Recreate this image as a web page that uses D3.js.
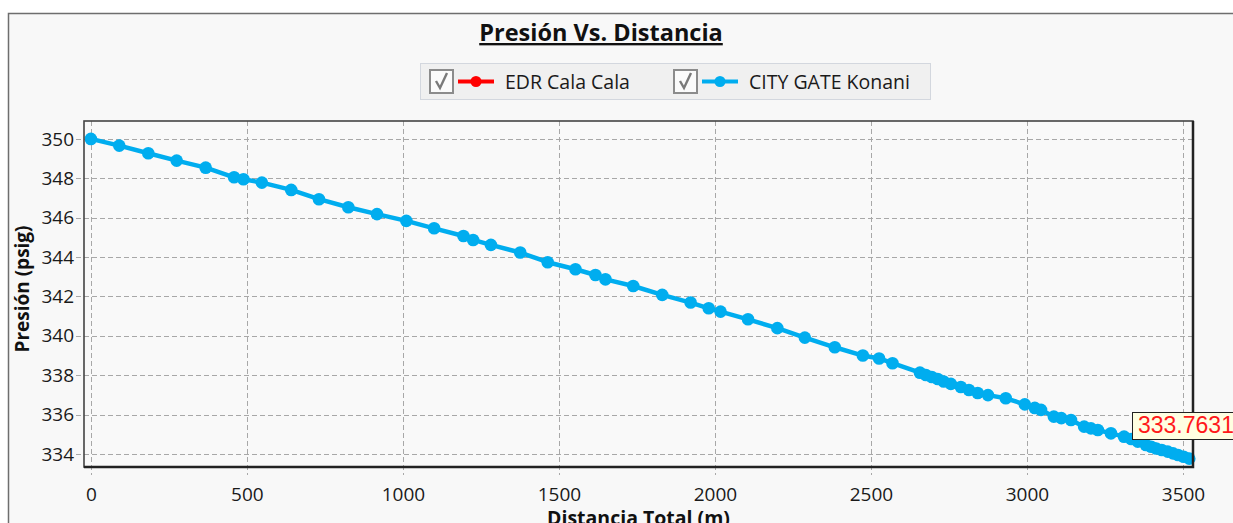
<!DOCTYPE html>
<html><head><meta charset="utf-8">
<script src="https://cdn.jsdelivr.net/npm/d3@7"></script>
<style>body{margin:0;background:#fff;overflow:hidden} svg{display:block;font-family:"Open Sans","Noto Sans",sans-serif;}</style>
</head><body><svg id="c" width="1233" height="523"></svg>
<script>
// ---- data ----
const chartTitle = "Presión Vs. Distancia";
const xTitle = "Distancia Total (m)";
const yTitle = "Presión (psig)";
const seriesNames = ["EDR Cala Cala", "CITY GATE Konani"];
const seriesColors = ["#ff0000", "#00adef"];
const edrDistance = [];
const edrPressure = [];
const konaniDistance = [0,91,184,275,368,459,489,548,642,731,825,917,1011,1100,1194,1225,1282,1376,1464,1553,1617,1649,1738,1831,1922,1980,2018,2106,2200,2288,2384,2474,2526,2569,2657,2676,2695,2714,2733,2756,2788,2814,2842,2875,2932,2993,3025,3045,3086,3110,3141,3183,3205,3227,3269,3311,3334,3355,3381,3398,3414,3432,3451,3468,3484,3502,3520];
const konaniPressure = [350.00,349.66,349.27,348.90,348.54,348.05,347.95,347.78,347.41,346.94,346.53,346.18,345.84,345.46,345.07,344.87,344.62,344.23,343.74,343.38,343.09,342.87,342.53,342.08,341.69,341.40,341.23,340.84,340.39,339.91,339.42,339.00,338.85,338.61,338.13,338.01,337.91,337.81,337.68,337.56,337.40,337.25,337.10,336.99,336.83,336.52,336.34,336.24,335.90,335.82,335.73,335.39,335.30,335.22,335.05,334.88,334.76,334.63,334.46,334.37,334.28,334.20,334.12,334.03,333.95,333.86,333.7631];
const xTicks = [0,500,1000,1500,2000,2500,3000,3500];
const yTicks = [334,336,338,340,342,344,346,348,350];
const xDomain = [-22, 3532];
const yDomain = [333.34, 350.91];
const lastLabel = "333.7631";

// ---- layout ----
const svg = d3.select("#c");
const L = 84, R = 1193, T = 121, B = 467;
const x = d3.scaleLinear().domain(xDomain).range([L, R]);
const y = d3.scaleLinear().domain(yDomain).range([B, T]);

// outer frame
svg.append("rect").attr("x",8.5).attr("y",13.5).attr("width",1300).attr("height",600)
  .attr("fill","#f8f8f8").attr("stroke","#6e6e6e").attr("stroke-width",1.5);

// title
svg.append("text").attr("x",601).attr("y",41).attr("text-anchor","middle")
  .attr("font-size",23.5).attr("font-weight","bold").attr("fill","#111")
  .attr("text-decoration","underline").text(chartTitle);

// legend
const lg = svg.append("g");
lg.append("rect").attr("x",420.5).attr("y",63.5).attr("width",510).attr("height",36)
  .attr("fill","#f0f0f0").attr("stroke","#d3d7de");
const legendX = [429, 673];
seriesNames.forEach((name,i)=>{
  const g = lg.append("g").attr("transform",`translate(${legendX[i]},0)`);
  g.append("rect").attr("x",1).attr("y",70).attr("width",23).attr("height",23)
    .attr("fill","#fbfbfb").attr("stroke","#8c8c8c").attr("stroke-width",2);
  g.append("path").attr("d","M7,81 L11,88 L18,73").attr("fill","none")
    .attr("stroke","#7a7a7a").attr("stroke-width",2.4);
  g.append("line").attr("x1",29).attr("x2",65).attr("y1",81.5).attr("y2",81.5)
    .attr("stroke",seriesColors[i]).attr("stroke-width",4);
  g.append("circle").attr("cx",47).attr("cy",81.5).attr("r",5.5).attr("fill",seriesColors[i]);
  g.append("text").attr("x",76).attr("y",88.5).attr("font-size",19.5).attr("fill","#1a1a1a").text(name);
});

// plot background
svg.append("rect").attr("x",L).attr("y",T).attr("width",R-L).attr("height",B-T).attr("fill","#f9f9f9");

// grid
const grid = svg.append("g").attr("stroke","#a8a8a8").attr("stroke-dasharray","5,3").attr("stroke-width",1);
grid.selectAll(".gx").data(xTicks).join("line")
  .attr("x1",d=>Math.round(x(d))+0.5).attr("x2",d=>Math.round(x(d))+0.5).attr("y1",T).attr("y2",B+8);
grid.selectAll(".gy").data(yTicks).join("line")
  .attr("y1",d=>Math.round(y(d))+0.5).attr("y2",d=>Math.round(y(d))+0.5).attr("x1",L-8).attr("x2",R);

// tick labels
const xAxis = d3.axisBottom(x).tickValues(xTicks).tickSize(0).tickPadding(0).tickFormat(d3.format("d"));
const gx = svg.append("g").attr("transform",`translate(0,${B+20})`).call(xAxis);
gx.select(".domain").remove();
gx.selectAll("text").attr("font-size",19).attr("fill","#1a1a1a").attr("font-family","'Open Sans',sans-serif");
const yAxis = d3.axisLeft(y).tickValues(yTicks).tickSize(0).tickPadding(0).tickFormat(d3.format("d"));
const gy = svg.append("g").attr("transform",`translate(${L-10},0)`).call(yAxis);
gy.select(".domain").remove();
gy.selectAll("text").attr("font-size",19).attr("fill","#1a1a1a").attr("font-family","'Open Sans',sans-serif");

// axis titles
svg.append("text").attr("x",(L+R)/2).attr("y",525).attr("text-anchor","middle")
  .attr("font-size",19.5).attr("font-weight","bold").attr("fill","#111").text(xTitle);
svg.append("text").attr("transform",`translate(29,${(T+B)/2-5}) rotate(-90)`).attr("text-anchor","middle")
  .attr("font-size",19).attr("font-weight","bold").attr("fill","#111").text(yTitle);

// series
const line = d3.line().x(d=>x(d[0])).y(d=>y(d[1]));
const seriesData = [d3.zip(edrDistance, edrPressure), d3.zip(konaniDistance, konaniPressure)];
seriesData.forEach((data,i)=>{
  if(!data.length) return;
  svg.append("path").datum(data).attr("d",line).attr("fill","none")
    .attr("stroke",seriesColors[i]).attr("stroke-width",4.5).attr("stroke-linejoin","round");
  svg.append("g").selectAll("circle").data(data).join("circle")
    .attr("cx",d=>x(d[0])).attr("cy",d=>y(d[1])).attr("r",6.3).attr("fill",seriesColors[i]);
});

// plot frame
svg.append("rect").attr("x",L).attr("y",T).attr("width",R-L).attr("height",B-T)
  .attr("fill","none").attr("stroke","#444").attr("stroke-width",1.6);
svg.append("path").attr("d",`M${L},${B} H${R} V${T}`).attr("fill","none").attr("stroke","#222").attr("stroke-width",2.5);

// last value annotation
const lastD = seriesData[1][seriesData[1].length-1];
const ax = x(lastD[0]) - 57, ay = y(lastD[1]) - 47;
svg.append("rect").attr("x",Math.round(ax)+0.5).attr("y",Math.round(ay)+0.5).attr("width",140).attr("height",27)
  .attr("fill","#ffffe1").attr("stroke","#222").attr("stroke-width",1);
svg.append("text").attr("x",Math.round(ax)+6).attr("y",Math.round(ay)+21)
  .attr("font-family","'Liberation Sans',Arial,sans-serif").attr("font-size",23).attr("fill","#ff1a1a").text(lastLabel);
</script></body></html>
